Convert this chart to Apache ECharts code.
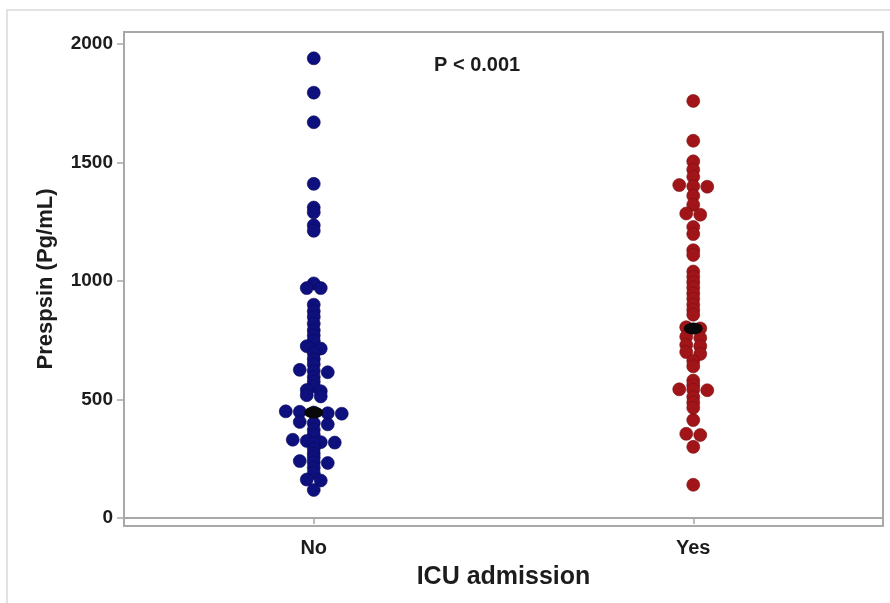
<!DOCTYPE html>
<html>
<head>
<meta charset="utf-8">
<script src="https://cdn.jsdelivr.net/npm/echarts@6/dist/echarts.min.js"></script>
<style>
  html, body { margin: 0; padding: 0; background: #fff; }
  #chart { width: 890px; height: 603px; }
</style>
</head>
<body>
<div id="chart"></div>
<script>
// Presepsin levels by ICU admission status
const categories = ['No', 'Yes'];

const noValues = [
  1940, 1795, 1670, 1410, 1310, 1290, 1235, 1212,
  990, 970, 970, 900, 872, 848, 820, 792, 770, 748,
  725, 715, 695, 670, 648, 625, 620, 615, 595, 575, 556,
  540, 535, 518, 513, 450, 448, 445, 442, 440,
  405, 400, 395, 372, 350, 330, 325, 320, 318, 315,
  292, 272, 255, 240, 235, 232, 212, 190, 162, 158, 118
];

const yesValues = [
  1760, 1592, 1505, 1470, 1440, 1405, 1400, 1398, 1360, 1322,
  1285, 1280, 1228, 1198, 1130, 1110, 1040, 1018, 995, 972,
  948, 925, 900, 878, 858, 805, 800, 765, 760, 730, 725,
  700, 692, 662, 640, 580, 560, 543, 541, 539, 510, 487,
  465, 413, 355, 350, 300, 140
];

const medians = [445, 800];
const yTicks = [0, 500, 1000, 1500, 2000];
const pLabel = 'P < 0.001';

// Dot-plot layout: values that fall within one bin are spread sideways
function dotPlot(category, values, binWidth, step) {
  const sorted = values.slice().sort((a, b) => b - a);
  const bins = [];
  sorted.forEach(v => {
    const last = bins[bins.length - 1];
    if (last && last[0] - v < binWidth) last.push(v);
    else bins.push([v]);
  });
  const out = [];
  bins.forEach(bin => {
    bin.forEach((v, i) => {
      out.push({ value: [category, v], symbolOffset: [(i - (bin.length - 1) / 2) * step, 0] });
    });
  });
  return out;
}

const FONT = 'Liberation Sans, Arial, sans-serif';
const TEXT = '#1c1c1c';
const AXIS = '#a8a8a8';

const chart = echarts.init(document.getElementById('chart'), null, { renderer: 'canvas' });

chart.setOption({
  backgroundColor: '#fff',
  animation: false,
  grid: {
    left: 124, right: 7, top: 32, bottom: 77,
    show: true, borderColor: AXIS, borderWidth: 2, backgroundColor: '#fff'
  },
  graphic: [
    {
      type: 'rect', silent: true, z: -1,
      shape: { x: 7, y: 10, width: 884, height: 600 },
      style: { fill: 'none', stroke: '#d9d9d9', lineWidth: 1.5 }
    },
    {
      type: 'text', left: 434, top: 55,
      style: { text: pLabel, font: 'bold 20px ' + FONT, fill: TEXT }
    }
  ],
  xAxis: {
    type: 'category',
    data: categories,
    boundaryGap: true,
    name: 'ICU admission',
    nameLocation: 'middle',
    nameGap: 39,
    nameTextStyle: { fontFamily: FONT, fontWeight: 'bold', fontSize: 25, color: TEXT },
    axisLine: { show: true, lineStyle: { color: AXIS, width: 2 } },
    axisTick: { show: true, alignWithLabel: true, length: 6, lineStyle: { color: AXIS, width: 1.5 } },
    axisLabel: { margin: 12, fontFamily: FONT, fontWeight: 'bold', fontSize: 20, color: TEXT },
    splitLine: { show: false }
  },
  yAxis: {
    type: 'value',
    min: -34,
    max: 2051,
    name: 'Prespsin (Pg/mL)',
    nameLocation: 'middle',
    nameGap: 67,
    nameRotate: 90,
    nameTextStyle: { fontFamily: FONT, fontWeight: 'bold', fontSize: 22, color: TEXT },
    axisLine: { show: true, lineStyle: { color: AXIS, width: 2 } },
    axisTick: { show: true, length: 7, customValues: yTicks, lineStyle: { color: AXIS, width: 1.5 } },
    axisLabel: {
      margin: 11, customValues: yTicks,
      formatter: v => String(v),
      fontFamily: FONT, fontWeight: 'bold', fontSize: 19, color: TEXT
    },
    splitLine: { show: false }
  },
  series: [
    {
      name: 'No',
      type: 'scatter',
      symbol: 'circle',
      symbolSize: 13,
      itemStyle: { color: '#0e107e', borderColor: '#0a0a5c', borderWidth: 0.6, opacity: 1 },
      data: dotPlot('No', noValues, 15, 14)
    },
    {
      name: 'Yes',
      type: 'scatter',
      symbol: 'circle',
      symbolSize: 13,
      itemStyle: { color: '#a11418', borderColor: '#7a0f12', borderWidth: 0.6, opacity: 1 },
      data: dotPlot('Yes', yesValues, 15, 14)
    },
    {
      name: 'Median',
      type: 'scatter',
      symbol: 'circle',
      symbolSize: [19, 12],
      z: 10,
      itemStyle: { color: '#080808', opacity: 1 },
      data: categories.map((c, i) => [c, medians[i]])
    }
  ]
});
</script>
</body>
</html>
